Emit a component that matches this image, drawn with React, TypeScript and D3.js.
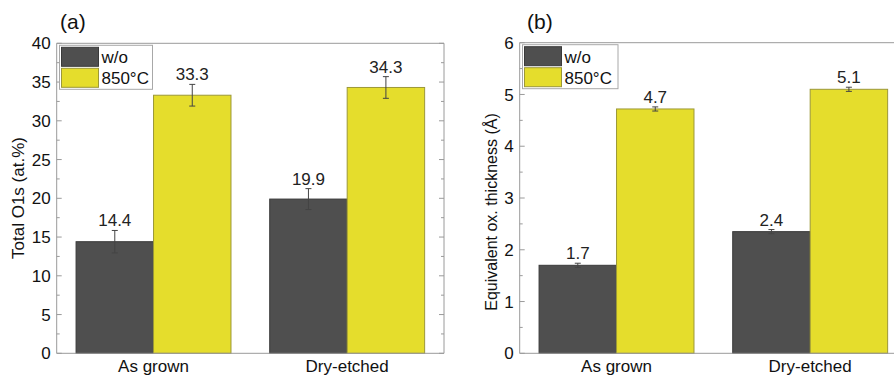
import React from "react";
import * as d3 from "d3";

const categories = ["As grown", "Dry-etched"];
const seriesNames = ["w/o", "850°C"];
const seriesColors = ["#4f4f4f", "#e5dd2c"];
const seriesStroke = ["#3a3a3a", "#9c9838"];

const o1sWo = [14.4, 19.9];
const o1s850 = [33.3, 34.3];
const o1sErrWo = [1.45, 1.35];
const o1sErr850 = [1.4, 1.4];

const thickWo = [1.7, 2.35];
const thick850 = [4.72, 5.1];
const thickErrWo = [0.04, 0.04];
const thickErr850 = [0.04, 0.04];
const thickLabelsWo = ["1.7", "2.4"];
const thickLabels850 = ["4.7", "5.1"];

const o1sTicks = [0, 5, 10, 15, 20, 25, 30, 35, 40];
const thickTicks = [0, 1, 2, 3, 4, 5, 6];

const FONT = "Arial, 'Liberation Sans', Helvetica, sans-serif";

type PanelProps = {
  x0: number;
  x1: number;
  yTop: number;
  yBot: number;
  yMax: number;
  ticks: number[];
  minorStep: number;
  values: number[][];
  errs: number[][];
  labels: string[][];
  title: string;
  titleSize: number;
  tag: string;
  tagX: number;
  legendX: number;
  legendW: number;
  yTitleX: number;
  yTitleY: number;
  showRight: boolean;
};

function Panel(p: PanelProps) {
  const x = d3.scaleLinear().domain([0.5, 2.5]).range([p.x0, p.x1]);
  const y = d3.scaleLinear().domain([0, p.yMax]).range([p.yBot, p.yTop]);
  const bw = 0.4;
  const minor = d3.range(0, p.yMax + 1e-9, p.minorStep);
  const axisColor = "#9a9a9a";
  const right = Math.min(p.x1, 894);
  const legY = p.yTop + 2;
  return (
    <g fontFamily={FONT}>
      {categories.map((c, ci) =>
        seriesNames.map((s, si) => {
          const v = p.values[si][ci];
          const e = p.errs[si][ci];
          const xl = x(ci + 1 - bw + si * bw);
          const xr = x(ci + 1 + si * bw);
          const xc = (xl + xr) / 2;
          return (
            <g key={c + s}>
              <rect
                x={xl}
                y={y(v)}
                width={xr - xl}
                height={y(0) - y(v)}
                fill={seriesColors[si]}
                stroke={seriesStroke[si]}
                strokeWidth={1}
              />
              <line x1={xc} x2={xc} y1={y(v + e)} y2={y(v - e)} stroke="#444" strokeWidth={1} />
              <line x1={xc - 3} x2={xc + 3} y1={y(v + e)} y2={y(v + e)} stroke="#444" strokeWidth={1} />
              <line x1={xc - 3} x2={xc + 3} y1={y(v - e)} y2={y(v - e)} stroke="#444" strokeWidth={1} />
              <text x={xc} y={y(v + e) - 4} textAnchor="middle" fontSize={17} fill="#222">
                {p.labels[si][ci]}
              </text>
            </g>
          );
        })
      )}
      <line x1={p.x0} x2={right} y1={p.yTop} y2={p.yTop} stroke={axisColor} />
      <line x1={p.x0} x2={right} y1={p.yBot} y2={p.yBot} stroke={axisColor} />
      <line x1={p.x0} x2={p.x0} y1={p.yTop} y2={p.yBot} stroke={axisColor} />
      {p.showRight && <line x1={p.x1} x2={p.x1} y1={p.yTop} y2={p.yBot} stroke={axisColor} />}
      {minor.map((t) => {
        const isMajor = p.ticks.some((m) => Math.abs(m - t) < 1e-9);
        const len = isMajor ? 5 : 3;
        return (
          <g key={"t" + t}>
            <line x1={p.x0} x2={p.x0 + len} y1={y(t)} y2={y(t)} stroke={axisColor} />
            {p.showRight && <line x1={p.x1} x2={p.x1 - len} y1={y(t)} y2={y(t)} stroke={axisColor} />}
          </g>
        );
      })}
      {p.ticks.map((t) => (
        <text key={"l" + t} x={p.x0 - 6} y={y(t)} dy="0.36em" textAnchor="end" fontSize={17} fill="#111">
          {t}
        </text>
      ))}
      {categories.map((c, ci) => (
        <text key={c} x={x(ci + 1)} y={372} textAnchor="middle" fontSize={17} fill="#111">
          {c}
        </text>
      ))}
      <text
        transform={`translate(${p.yTitleX},${p.yTitleY}) rotate(-90)`}
        textAnchor="middle"
        fontSize={p.titleSize}
        fill="#111"
      >
        {p.title}
      </text>
      <text x={p.tagX} y={29} fontSize={21} fill="#111">
        {p.tag}
      </text>
      <rect x={p.legendX} y={legY} width={p.legendW} height={44} fill="#fff" stroke="#a8a8a8" />
      {seriesNames.map((s, si) => (
        <g key={"lg" + s}>
          <rect
            x={p.legendX + 2}
            y={legY + 2 + si * 21}
            width={37}
            height={19}
            fill={seriesColors[si]}
            stroke={seriesStroke[si]}
          />
          <text x={p.legendX + 42} y={legY + 12 + si * 21} dy="0.36em" fontSize={17} fill="#111">
            {s}
          </text>
        </g>
      ))}
    </g>
  );
}

export default function App() {
  return (
    <svg
      width={894}
      height={378}
      style={{ position: "absolute", left: 0, top: 0, background: "#fff" }}
    >
      <rect x={0} y={0} width={894} height={378} fill="#fff" />
      <Panel
        x0={56.7}
        x1={444}
        yTop={43.3}
        yBot={353.3}
        yMax={40}
        ticks={o1sTicks}
        minorStep={2.5}
        values={[o1sWo, o1s850]}
        errs={[o1sErrWo, o1sErr850]}
        labels={[o1sWo.map((v) => v.toFixed(1)), o1s850.map((v) => v.toFixed(1))]}
        title="Total O1s (at.%)"
        titleSize={17}
        tag="(a)"
        tagX={60}
        legendX={59.5}
        legendW={93}
        yTitleX={24}
        yTitleY={198}
        showRight={true}
      />
      <Panel
        x0={519.7}
        x1={907}
        yTop={42.7}
        yBot={353.3}
        yMax={6}
        ticks={thickTicks}
        minorStep={0.5}
        values={[thickWo, thick850]}
        errs={[thickErrWo, thickErr850]}
        labels={[thickLabelsWo, thickLabels850]}
        title="Equivalent ox. thickness (Å)"
        titleSize={16}
        tag="(b)"
        tagX={527}
        legendX={522.5}
        legendW={95.5}
        yTitleX={497}
        yTitleY={212}
        showRight={false}
      />
    </svg>
  );
}
